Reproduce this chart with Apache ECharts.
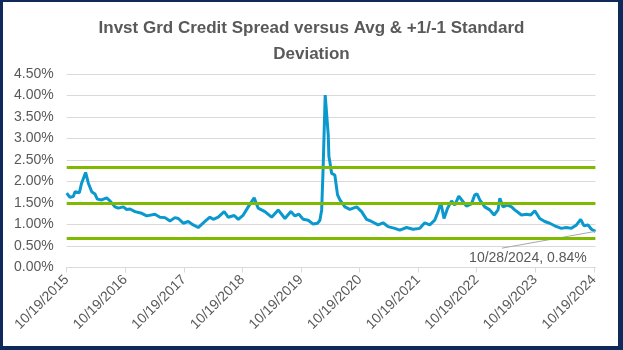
<!DOCTYPE html>
<html><head><meta charset="utf-8">
<script src="https://cdn.jsdelivr.net/npm/echarts@6/dist/echarts.min.js"></script>
<style>
html,body{margin:0;padding:0;background:#fff;}
#chart{position:absolute;left:0;top:0;width:623px;height:350px;}
#frame{position:absolute;left:0;top:0;width:623px;height:350px;box-sizing:border-box;border-style:solid;border-color:#0F2A5A;border-width:2px 5px 4px 3px;pointer-events:none;}
</style></head><body>
<div id="chart"></div><div id="frame"></div>
<script>
const titleText = 'Invst Grd Credit Spread versus Avg & +1/-1 Standard\nDeviation';
const tickDates = ['2015-10-19','2016-10-19','2017-10-19','2018-10-19','2019-10-19','2020-10-19','2021-10-19','2022-10-19','2023-10-19','2024-10-19'];
const dates = [
'2015-10-19','2015-11-08','2015-11-29','2015-12-10','2016-01-06','2016-01-20','2016-02-14','2016-03-02','2016-03-23','2016-04-12',
'2016-04-27','2016-05-24','2016-06-24','2016-07-15','2016-08-15','2016-09-05','2016-10-06','2016-10-27','2016-11-17','2016-12-18',
'2017-01-29','2017-03-01','2017-04-21','2017-05-23','2017-06-23','2017-07-24','2017-08-24','2017-09-14','2017-10-15','2017-11-15',
'2017-12-16','2018-01-16','2018-01-27','2018-02-27','2018-03-30','2018-04-20','2018-05-21','2018-06-27','2018-07-22','2018-08-29',
'2018-09-23','2018-10-24','2018-11-24','2018-12-31','2019-01-25','2019-03-08','2019-04-19','2019-05-30','2019-07-11','2019-08-17',
'2019-09-11','2019-10-06','2019-11-02','2019-12-03','2020-01-03','2020-01-30','2020-02-14','2020-02-25','2020-03-05','2020-03-18',
'2020-04-06','2020-04-10','2020-04-16','2020-04-27','2020-05-17','2020-06-03','2020-06-18','2020-07-19','2020-08-19','2020-09-30',
'2020-10-31','2020-12-01','2021-01-01','2021-02-11','2021-03-14','2021-04-14','2021-05-26','2021-06-26','2021-08-07','2021-09-17',
'2021-10-29','2021-11-29','2021-12-30','2022-01-30','2022-02-20','2022-03-09','2022-03-29','2022-04-20','2022-05-15','2022-06-04',
'2022-06-29','2022-07-26','2022-08-16','2022-09-16','2022-10-07','2022-10-21','2022-11-07','2022-12-08','2023-01-08','2023-02-04',
'2023-03-01','2023-03-12','2023-04-01','2023-04-29','2023-05-24','2023-06-13','2023-07-25','2023-08-25','2023-09-21','2023-10-16',
'2023-11-16','2023-12-17','2024-01-17','2024-02-17','2024-03-30','2024-04-30','2024-05-31','2024-07-02','2024-07-28','2024-08-18',
'2024-09-12','2024-10-03','2024-10-28'];
const spread = [
1.73,1.63,1.65,1.76,1.74,1.96,2.21,1.96,1.76,1.71,
1.59,1.57,1.62,1.55,1.41,1.38,1.41,1.35,1.36,1.30,
1.26,1.20,1.24,1.17,1.16,1.08,1.16,1.14,1.03,1.07,
0.99,0.93,0.91,1.07,1.17,1.12,1.17,1.30,1.17,1.21,
1.12,1.22,1.41,1.62,1.38,1.30,1.17,1.34,1.14,1.30,
1.20,1.24,1.12,1.10,1.01,1.03,1.10,1.34,2.30,4.01,
3.08,2.58,2.46,2.19,2.15,1.69,1.57,1.41,1.35,1.41,
1.30,1.12,1.07,0.99,1.04,0.95,0.91,0.87,0.93,0.89,
0.91,1.04,0.99,1.10,1.30,1.51,1.14,1.38,1.55,1.45,
1.66,1.53,1.43,1.48,1.69,1.71,1.57,1.41,1.34,1.22,
1.34,1.61,1.41,1.45,1.41,1.34,1.22,1.24,1.22,1.32,
1.14,1.07,1.03,0.97,0.91,0.93,0.91,0.99,1.12,0.97,
0.99,0.89,0.84];
const avgSpread = 1.50;
const plusOneSd = 2.33;
const minusOneSd = 0.67;
const annotationText = '10/28/2024, 0.84%';
const annotationLeaderEnd = ['2023-03-25', 0.45];
const annotationTextAt = ['2023-09-03', 0.22];

const FONT = '"Liberation Sans", Arial, sans-serif';
const TXT = '#595959';
const GREEN = '#7FBA00';
const BLUE = '#0A98CF';
const parseD = s => { const p = s.split('-').map(Number); return Date.UTC(p[0], p[1]-1, p[2]); };
const fmtD = t => { const d = new Date(t); return (d.getUTCMonth()+1) + '/' + d.getUTCDate() + '/' + d.getUTCFullYear(); };
const tickTs = tickDates.map(parseD);
const seriesData = dates.map((d, i) => [parseD(d), spread[i]]);
const last = seriesData[seriesData.length - 1];

const chart = echarts.init(document.getElementById('chart'));
chart.setOption({
  animation: false,
  title: {
    text: titleText, left: 'center', top: 15, padding: 0,
    textStyle: { fontFamily: FONT, fontSize: 17, fontWeight: 'bold', color: TXT, lineHeight: 26 }
  },
  grid: { left: 66.7, right: 27.6, top: 74, bottom: 82.5, containLabel: false },
  xAxis: {
    type: 'value', scale: true,
    min: parseD(dates[0]), max: parseD(dates[dates.length - 1]),
    axisLine: { show: true, lineStyle: { color: '#d9d9d9', width: 1 } },
    axisTick: { show: true, customValues: tickTs, length: 5, lineStyle: { color: '#d9d9d9' } },
    axisLabel: { customValues: tickTs, formatter: v => fmtD(v), rotate: 45, fontSize: 14, color: TXT, fontFamily: FONT, margin: 10, showMinLabel: true, showMaxLabel: true },
    splitLine: { show: false }
  },
  yAxis: {
    type: 'value', min: 0, max: 4.5, interval: 0.5,
    axisLine: { show: false }, axisTick: { show: false },
    axisLabel: { formatter: v => v.toFixed(2) + '%', fontSize: 14, color: TXT, fontFamily: FONT, margin: 13 },
    splitLine: { lineStyle: { color: '#d9d9d9', width: 1 } }
  },
  series: [
    {
      type: 'line', data: seriesData, showSymbol: false, symbol: 'none', z: 3,
      lineStyle: { color: BLUE, width: 3 },
      markLine: {
        silent: true, symbol: ['none', 'none'], animation: false, label: { show: false },
        data: [[
          { coord: last, lineStyle: { color: '#a6a6a6', width: 1, type: 'solid' } },
          { coord: [parseD(annotationLeaderEnd[0]), annotationLeaderEnd[1]] }
        ]]
      },
      markPoint: {
        silent: true, symbol: 'circle', symbolSize: 1, itemStyle: { color: 'rgba(0,0,0,0)' },
        animation: false,
        data: [{ coord: [parseD(annotationTextAt[0]), annotationTextAt[1]],
          label: { show: true, position: 'inside', formatter: annotationText, fontSize: 14, color: TXT, fontFamily: FONT } }]
      }
    },
    {
      type: 'line', data: [], z: 5,
      markLine: {
        silent: true, symbol: ['none', 'none'], animation: false, label: { show: false },
        lineStyle: { color: GREEN, width: 3, type: 'solid' },
        data: [{ yAxis: plusOneSd }, { yAxis: avgSpread }, { yAxis: minusOneSd }]
      }
    }
  ]
});
</script>
</body></html>
